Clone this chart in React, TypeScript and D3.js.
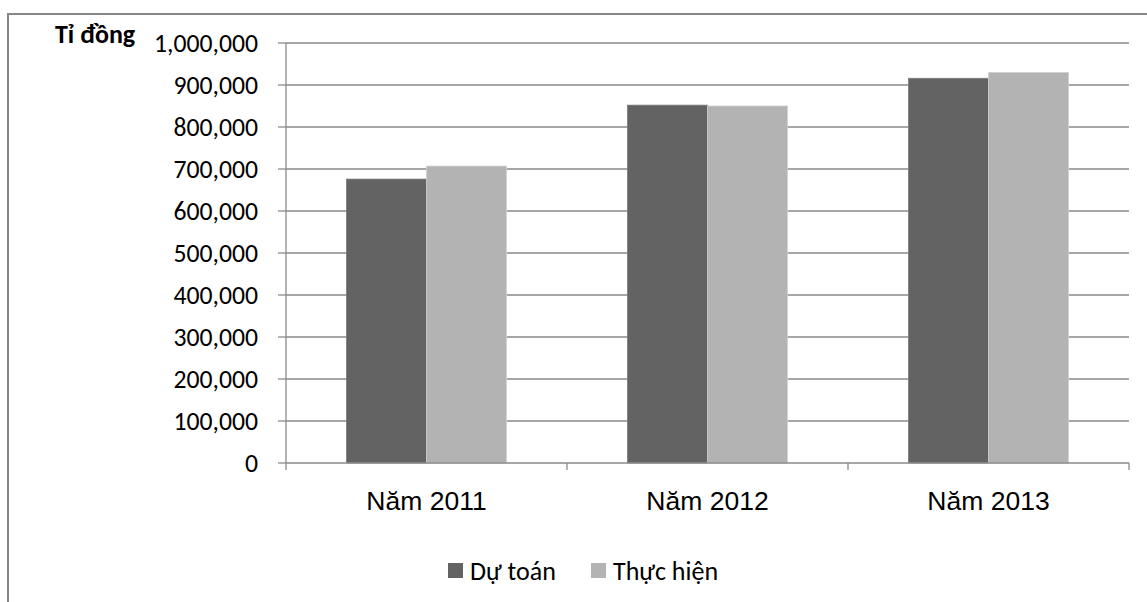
import React from "react";
import * as d3 from "d3";

const categories = ["Năm 2011", "Năm 2012", "Năm 2013"];
const seriesNames = ["Dự toán", "Thực hiện"];
const duToan = [676000, 852000, 916000];
const thucHien = [707000, 850000, 930000];
const yTicks = [0, 100000, 200000, 300000, 400000, 500000, 600000, 700000, 800000, 900000, 1000000];
const colors = ["#636363", "#b3b3b3"];

export default function App() {
  const W = 1147, H = 602;
  const left = 286, right = 1129, top = 43, bottom = 463;
  const x = d3.scaleBand().domain(categories).range([left, right]).paddingInner(0).paddingOuter(0);
  const xs = d3.scaleBand().domain(seriesNames).range([0, x.bandwidth()]).paddingInner(0).paddingOuter(0.756);
  const y = d3.scaleLinear().domain([0, 1000000]).range([bottom, top]);
  const fmt = d3.format(",");
  const values = [duToan, thucHien];
  const tickFont = "Carlito, Lato, sans-serif";
  const catBoundaries = [left, ...categories.map((c) => (x(c) as number) + x.bandwidth())];

  return (
    <svg width={W} height={H} style={{ position: "absolute", left: 0, top: 0, display: "block", background: "#fff" }}>
      <rect x={8} y={14} width={W + 20} height={H + 20} fill="#fff" stroke="#878787" strokeWidth={2} />
      {yTicks.map((t) => (
        <g key={t}>
          {t > 0 && <line x1={left} x2={right} y1={y(t)} y2={y(t)} stroke="#8a8a8a" strokeWidth={1.3} />}
          <line x1={278} x2={left} y1={y(t)} y2={y(t)} stroke="#8a8a8a" strokeWidth={1.3} />
          <text x={258} y={y(t)} dy="0.35em" textAnchor="end" fontFamily={tickFont} fontSize={25.7} fill="#000">
            {fmt(t)}
          </text>
        </g>
      ))}
      {categories.map((c, i) =>
        seriesNames.map((s, j) => {
          const bx = (x(c) as number) + (xs(s) as number);
          const v = values[j][i];
          return (
            <rect key={c + s} x={bx} y={y(v)} width={xs.bandwidth()} height={bottom - y(v)}
              fill={colors[j]} stroke={j === 0 ? "#7a7a7a" : "#d0d0d0"} strokeWidth={0.8} />
          );
        })
      )}
      <line x1={left} x2={left} y1={top} y2={bottom} stroke="#8a8a8a" strokeWidth={1.3} />
      <line x1={left} x2={right} y1={bottom} y2={bottom} stroke="#8a8a8a" strokeWidth={1.3} />
      {catBoundaries.map((b, i) => (
        <line key={i} x1={b} x2={b} y1={bottom} y2={470} stroke="#8a8a8a" strokeWidth={1.3} />
      ))}
      {categories.map((c) => (
        <text key={c} x={(x(c) as number) + x.bandwidth() / 2} y={501} dy="0.35em" textAnchor="middle"
          fontFamily="'Liberation Sans', Arial, sans-serif" fontSize={26.5} fill="#000">
          {c}
        </text>
      ))}
      <text x={55} y={43} fontFamily={tickFont} fontWeight="bold" fontSize={26} fill="#000">Tỉ đồng</text>
      {seriesNames.map((s, j) => {
        const lx = j === 0 ? 448 : 591;
        return (
          <g key={s}>
            <rect x={lx} y={563} width={15} height={15} fill={colors[j]} />
            <text x={lx + 22} y={570.5} dy="0.35em" fontFamily={tickFont} fontSize={26} fill="#000">{s}</text>
          </g>
        );
      })}
    </svg>
  );
}
